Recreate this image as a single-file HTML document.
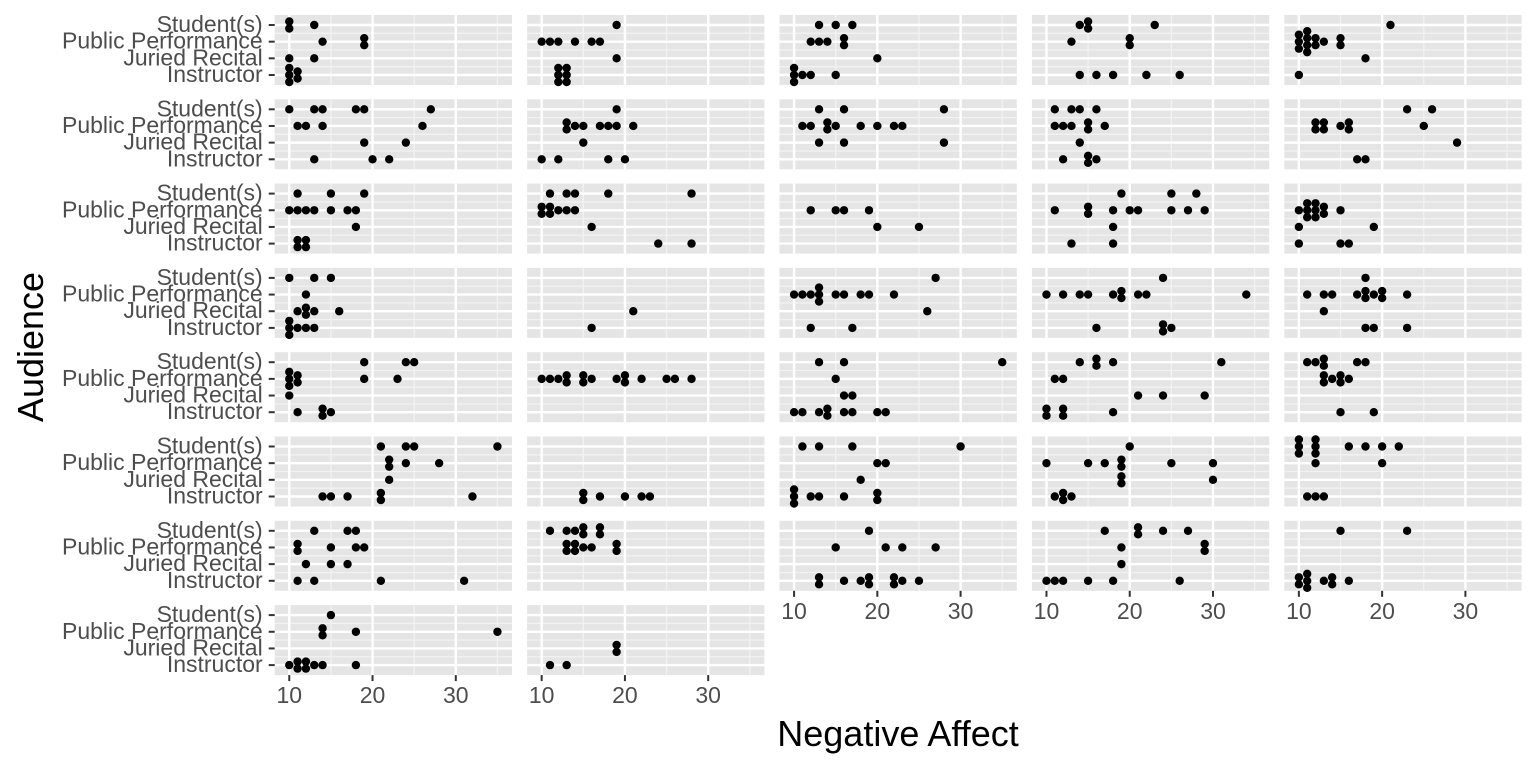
<!DOCTYPE html>
<html><head><meta charset="utf-8">
<style>
html,body{margin:0;padding:0;background:#fff;}
svg{display:block;font-family:"Liberation Sans",Arial,sans-serif;}
</style></head>
<body>
<svg id="chart" width="1536" height="768" viewBox="0 0 1536 768" xmlns="http://www.w3.org/2000/svg">
<text x="0" y="0" transform="translate(43,347) rotate(-90)" text-anchor="middle" font-size="36" fill="#000">Audience</text>
<text x="898" y="746" text-anchor="middle" font-size="36" fill="#000">Negative Affect</text>
</svg>
<script>
const categories = ["Student(s)", "Public Performance", "Juried Recital", "Instructor"];
const xTicks = [10, 20, 30];
const xDomain = [8.25, 36.75];
// panel values, row-major (rows 1-8, columns 1-5); each panel: [Student, Public, Juried, Instructor]
const panelValues = [
 // row 1
 [[10,10,13],[14,19,19],[10,13],[10,10,10,11,11]],
 [[19],[10,11,12,14,16,17],[19],[12,12,12,13,13,13]],
 [[13,15,17],[12,13,14,16,16],[20],[10,10,10,11,12,15]],
 [[14,15,15,23],[13,20,20],[],[14,16,18,22,26]],
 [[21],[10,10,10,11,11,11,11,12,12,13,15,15],[18],[10]],
 // row 2
 [[10,13,14,18,19,27],[11,12,14,26],[19,24],[13,20,22]],
 [[19],[13,13,14,15,17,18,19,21],[15],[10,12,18,20]],
 [[13,16,28],[11,12,14,14,15,18,20,22,23],[13,16,28],[]],
 [[11,13,14,16],[11,12,13,15,15,17],[14],[12,15,15,16]],
 [[23,26],[12,12,13,13,15,16,16,25],[29],[17,18]],
 // row 3
 [[11,15,19],[10,11,12,13,15,17,18],[18],[11,11,12,12]],
 [[11,13,14,18,28],[10,10,11,11,12,13,14],[16],[24,28]],
 [[],[12,15,16,19],[20,25],[]],
 [[19,25,28],[11,15,15,18,20,21,25,27,29],[18],[13,18]],
 [[],[10,11,11,11,12,12,12,13,13,15],[10,19],[10,15,16]],
 // row 4
 [[10,13,15],[12],[11,12,12,13,16],[10,10,10,11,12,13]],
 [[],[],[21],[16]],
 [[27],[10,11,12,13,13,13,15,16,18,19,22],[26],[12,17]],
 [[24],[10,12,14,15,18,19,19,21,22,34],[],[16,24,24,25]],
 [[18],[11,13,14,17,18,18,19,20,20,23],[13],[18,19,23]],
 // row 5
 [[19,24,25],[10,10,10,11,11,19,23],[10],[11,14,14,15]],
 [[],[10,11,12,13,13,15,15,16,19,20,20,22,25,26,28],[],[]],
 [[13,16,35],[15],[16,17],[10,11,13,14,14,16,17,20,21]],
 [[14,16,16,18,31],[11,12],[21,24,29],[10,10,12,12,18]],
 [[11,12,13,13,17,18],[13,13,14,15,15,16],[],[15,19]],
 // row 6
 [[21,24,25,35],[22,22,24,28],[22],[14,15,17,21,21,32]],
 [[],[],[],[15,15,17,20,22,23]],
 [[11,13,17,30],[20,21],[18],[10,10,10,12,13,16,20,20]],
 [[20],[10,15,17,19,19,25,30],[19,19,30],[11,12,12,13]],
 [[10,10,10,12,12,12,16,18,20,22],[12,20],[],[11,12,13]],
 // row 7
 [[13,17,18],[11,11,15,18,19],[12,15,17],[11,13,21,31]],
 [[11,13,14,15,15,17,17],[13,13,14,14,15,16,19,19],[],[]],
 [[19],[15,21,23,27],[],[13,13,16,18,19,19,22,22,23,25]],
 [[17,21,21,24,27],[19,29,29],[19],[10,11,12,15,18,26]],
 [[15,23],[],[],[10,10,11,11,11,13,14,14,16]],
 // row 8
 [[15],[14,14,18,35],[],[10,11,11,12,12,13,14,18]],
 [[],[],[19,19],[11,13]]
];

const NS = "http://www.w3.org/2000/svg";
const svg = document.getElementById("chart");
const P0x = 274.7, Pw = 237.3, Pdx = 252.4, P0y = 15, Ph = 70, Pdy = 84.3;
function mk(tag, attrs){ const e=document.createElementNS(NS,tag); for(const k in attrs) e.setAttribute(k,attrs[k]); return e; }
function xScale(v, left){ return left + (v - xDomain[0]) / (xDomain[1]-xDomain[0]) * Pw; }
function yScale(ci, top){ const val = 4 - ci; return top + Ph - (val - 0.4) / 4.2 * Ph; }
const nPanels = panelValues.length;
for (let p = 0; p < nPanels; p++) {
  const r = Math.floor(p/5), c = p % 5;
  const left = P0x + c*Pdx, top = P0y + r*Pdy;
  const g = mk("g", {});
  
  
  svg.appendChild(g);
  const bg = mk("rect",{x:left,y:top,width:Pw,height:Ph,fill:"#e5e5e5"});
  
  
  g.appendChild(bg);
  for (let v = 15; v <= 35; v += 10) {
    const x = xScale(v,left);
    const l = mk("line",{x1:x,x2:x,y1:top,y2:top+Ph,stroke:"#f2f2f2","stroke-width":1.3});
    
    
    g.appendChild(l);
  }
  for (let i = 0; i < 3; i++) {
    const y = (yScale(i,top)+yScale(i+1,top))/2;
    const l = mk("line",{x1:left,x2:left+Pw,y1:y,y2:y,stroke:"#f2f2f2","stroke-width":1.3});
    
    
    g.appendChild(l);
  }
  xTicks.forEach(v => {
    const x = xScale(v,left);
    const l = mk("line",{x1:x,x2:x,y1:top,y2:top+Ph,stroke:"#fff","stroke-width":2.4});
    
    
    g.appendChild(l);
  });
  categories.forEach((cat,i) => {
    const y = yScale(i,top);
    const l = mk("line",{x1:left,x2:left+Pw,y1:y,y2:y,stroke:"#fff","stroke-width":2.4});
    
    
    g.appendChild(l);
  });
  if (c === 0) {
    categories.forEach((cat,i) => {
      const y = yScale(i,top);
      const tk = mk("line",{x1:left-6,x2:left,y1:y,y2:y,stroke:"#333","stroke-width":2});
      
      
      g.appendChild(tk);
      const t = mk("text",{x:left-12,y:y+7,"text-anchor":"end","font-size":"23",fill:"#4d4d4d"});
      t.textContent = cat;
      
      
      g.appendChild(t);
    });
  }
  const isBottom = (p + 5 >= nPanels);
  if (isBottom) {
    xTicks.forEach(v => {
      const x = xScale(v,left);
      const tk = mk("line",{x1:x,x2:x,y1:top+Ph,y2:top+Ph+6,stroke:"#333","stroke-width":2});
      
      
      g.appendChild(tk);
      const t = mk("text",{x:x,y:top+Ph+28,"text-anchor":"middle","font-size":"23",fill:"#4d4d4d"});
      t.textContent = v;
      
      
      g.appendChild(t);
    });
  }
  panelValues[p].forEach((vals,ci) => {
    const counts = {};
    vals.forEach(v => counts[v] = (counts[v]||0)+1);
    const seen = {};
    vals.forEach(v => {
      const n = counts[v], k = seen[v] = (seen[v]||0);
      seen[v]++;
      const off = (k - (n-1)/2) * 7;
      const dot = mk("circle",{cx:xScale(v,left),cy:yScale(ci,top)+off,r:4.2,fill:"#000"});
      
      
      g.appendChild(dot);
    });
  });
}
</script>
</body></html>
